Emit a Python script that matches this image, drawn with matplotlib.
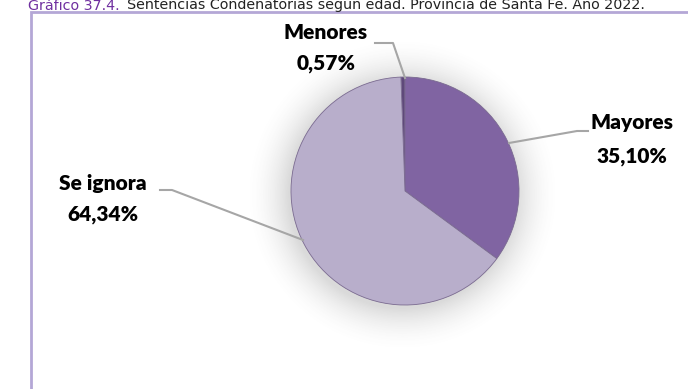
import numpy as np
import matplotlib
matplotlib.use("Agg")
import matplotlib.pyplot as plt
from matplotlib.patches import Rectangle

# Data
categories = ["Menores", "Mayores", "Se ignora"]
values = [0.57, 35.10, 64.34]
value_labels = ["0,57%", "35,10%", "64,34%"]
colors = ["#5F497A", "#8064A2", "#B8AECB"]

title_prefix = "Gráfico 37.4."
title_rest = "Sentencias Condenatorias según edad. Provincia de Santa Fe. Año 2022."

W, H = 688, 389
fig = plt.figure(figsize=(W / 100, H / 100), dpi=100)
ax = fig.add_axes([0, 0, 1, 1])
ax.set_xlim(0, W)
ax.set_ylim(0, H)
ax.axis("off")

cx, cy, r = 405, 198, 114

# soft shadow glow
xs = np.arange(0, W)
ys = np.arange(0, H)
X, Y = np.meshgrid(xs, ys)
d = np.sqrt((X - (cx - 3)) ** 2 + (Y - (cy - 4)) ** 2)
a = np.clip(1 - (d - r) / 45, 0, 1) ** 2 * 0.22
img = np.zeros((H, W, 4))
img[..., :3] = 0.35
img[..., 3] = a
ax.imshow(img, extent=(0, W, 0, H), origin="lower", zorder=1, interpolation="bilinear")

start = 90 + values[0] * 3.6
ax.pie(values, colors=colors, startangle=start, counterclock=False,
       center=(cx, cy), radius=r, frame=True,
       wedgeprops=dict(linewidth=0.6, edgecolor="#7A6A90"))
ax.set_xlim(0, W)
ax.set_ylim(0, H)
ax.set_aspect("equal")
ax.axis("off")
for p in ax.patches:
    p.set_zorder(2)

lc = "#A6A6A6"
ax.plot([375, 393, 405], [346, 346, 311], color=lc, lw=1.5, zorder=3)
ax.plot([509, 577, 588], [246, 258, 258], color=lc, lw=1.5, zorder=3)
ax.plot([303, 172, 160], [149, 199, 199], color=lc, lw=1.5, zorder=3)

fp = dict(family="Lato", fontweight="heavy", fontsize=15, color="black",
          ha="center", va="center", zorder=4)
label_pos = [(326, 357, 326), (632, 267, 233), (103, 206, 175)]
for cat, vl, (x, y1, y2) in zip(categories, value_labels, label_pos):
    ax.text(x, y1, cat, **fp)
    ax.text(x, y2, vl, **fp)

# border box
ax.add_patch(Rectangle((31, -10), 700, H - 12 + 10, fill=False,
                       edgecolor="#B4A7D6", lw=2, zorder=5))

# title above the box
fig.text(28 / W, 1 - 9.5 / H, title_prefix, family="DejaVu Sans", fontsize=10.3,
         color="#7030A0", ha="left", va="baseline")
fig.text(127 / W, 1 - 9.5 / H, title_rest, family="DejaVu Sans", fontsize=10.3,
         color="#222222", ha="left", va="baseline")

fig.savefig("out.png", dpi=100)
